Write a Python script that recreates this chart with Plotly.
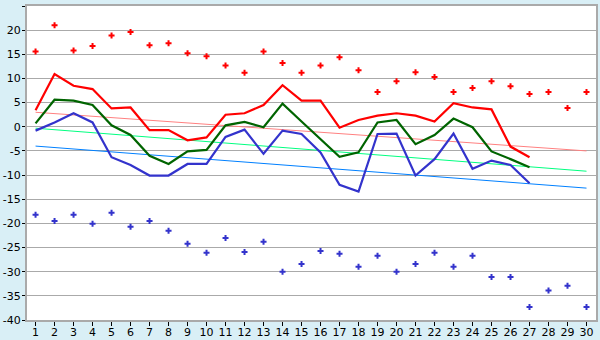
import plotly.graph_objects as go

days = list(range(1, 31))

# daily extremes (scatter markers)
max_points = [15.6, 21.0, 15.8, 16.7, 18.9, 19.6, 16.9, 17.3, 15.2, 14.6,
              12.7, 11.2, 15.6, 13.2, 11.2, 12.7, 14.4, 11.7, 7.2, 9.4,
              11.3, 10.3, 7.2, 8.0, 9.4, 8.4, 6.8, 7.2, 3.9, 7.2]
min_points = [-18.2, -19.5, -18.2, -20.1, -17.8, -20.7, -19.5, -21.5, -24.2, -26.1,
              -23.0, -25.9, -23.8, -30.0, -28.4, -25.7, -26.3, -29.0, -26.7, -30.0,
              -28.4, -26.1, -29.0, -26.7, -31.1, -31.1, -37.3, -33.9, -32.9, -37.3]

# daily lines (days 1..27)
line_days = list(range(1, 28))
high_line = [3.4, 10.9, 8.5, 7.8, 3.8, 4.0, -0.7, -0.7, -2.8, -2.2,
             2.5, 2.8, 4.5, 8.6, 5.4, 5.4, -0.2, 1.4, 2.3, 2.8,
             2.3, 1.1, 4.9, 4.0, 3.6, -4.1, -6.3]
mean_line = [0.7, 5.6, 5.4, 4.5, 0.3, -1.7, -6.0, -7.7, -5.1, -4.8,
             0.3, 1.0, -0.1, 4.8, 1.1, -2.5, -6.2, -5.3, 0.9, 1.4,
             -3.6, -1.7, 1.7, -0.1, -5.1, -6.7, -8.4]
low_line = [-0.8, 0.9, 2.8, 0.9, -6.3, -7.9, -10.1, -10.1, -7.7, -7.7,
            -2.1, -0.6, -5.6, -0.8, -1.5, -5.3, -12.0, -13.4, -1.5, -1.4,
            -10.1, -6.7, -1.4, -8.7, -7.0, -7.9, -11.7]

# trend line end values (day 1, day 30)
trend_days = [1, 30]
high_trend = [3.0, -5.0]
mean_trend = [-0.3, -9.2]
low_trend = [-4.0, -12.7]

y_ticks = list(range(-40, 30, 5))
y_labels = [str(v) for v in y_ticks]

fig = go.Figure()

for vals, col in [(high_trend, "#ff8080"), (mean_trend, "#00ff80"), (low_trend, "#0080ff")]:
    fig.add_trace(go.Scatter(x=trend_days, y=vals, mode="lines",
                             line=dict(color=col, width=1), hoverinfo="skip"))

for vals, col in [(high_line, "#ff0000"), (mean_line, "#006400"), (low_line, "#3333cc")]:
    fig.add_trace(go.Scatter(x=line_days, y=vals, mode="lines",
                             line=dict(color=col, width=2.2)))

fig.add_trace(go.Scatter(x=days, y=max_points, mode="markers",
                         marker=dict(symbol="cross", size=5, color="#ff0000", line=dict(width=0))))
fig.add_trace(go.Scatter(x=days, y=min_points, mode="markers",
                         marker=dict(symbol="cross", size=5, color="#3333cc", line=dict(width=0))))

fig.update_layout(
    width=600, height=340,
    margin=dict(l=27, r=4, t=6, b=20, autoexpand=False),
    paper_bgcolor="#d9eff6",
    plot_bgcolor="#ffffff",
    showlegend=False,
    font=dict(family="DejaVu Sans", size=11, color="#000000"),
    xaxis=dict(range=[0.55, 30.5], tickmode="array", tickvals=days,
               ticktext=[str(d) for d in days], showgrid=False, zeroline=False,
               ticks="outside", ticklen=4, tickcolor="#000000", automargin=False,
               ticklabelstandoff=-3,
               showline=True, linecolor="#aaaaaa", linewidth=2, mirror=True,
               tickfont=dict(size=11)),
    yaxis=dict(range=[-40, 25], tickmode="array", tickvals=y_ticks, ticktext=y_labels,
               showgrid=True, gridcolor="#aaaaaa", gridwidth=1.3, zeroline=False,
               ticks="outside", ticklen=3, tickcolor="#000000", automargin=False,
               ticklabelstandoff=-1,
               showline=True, linecolor="#aaaaaa", linewidth=2, mirror=True,
               tickfont=dict(size=11)),
)

fig.write_html("out.html")
